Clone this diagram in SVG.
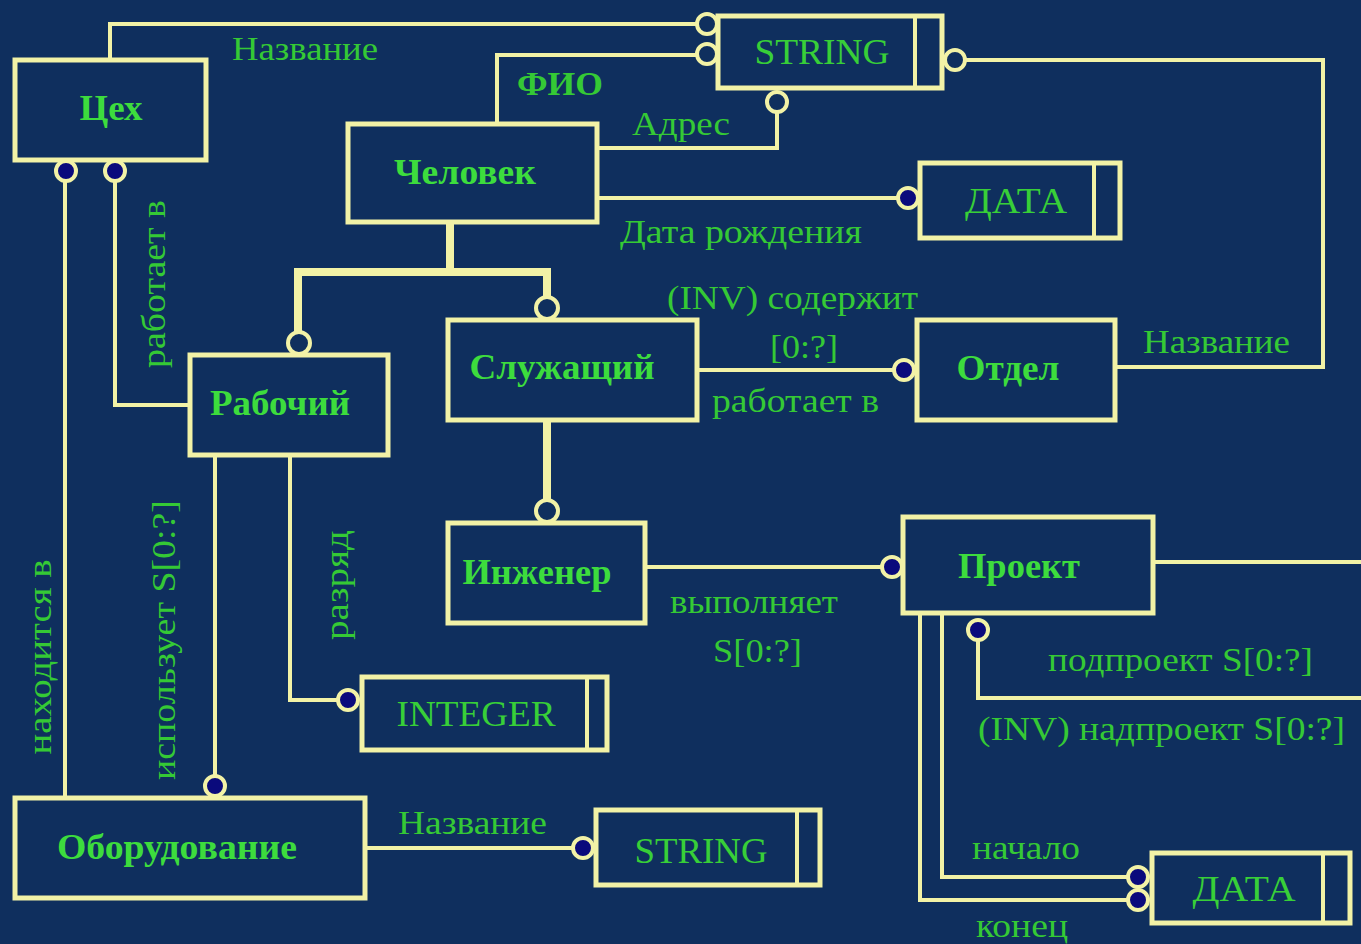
<svg xmlns="http://www.w3.org/2000/svg" width="1361" height="944" viewBox="0 0 1361 944">
  <style>
    .bg { fill: #0f2f5e; }
    .box { fill: #0f2f5e; stroke: #f2f2a6; stroke-width: 5; }
    .div { fill: none; stroke: #f2f2a6; stroke-width: 4; }
    .ln { fill: none; stroke: #f2f2a6; stroke-width: 4; stroke-linejoin: miter; }
    .sub { fill: none; stroke: #f2f2a6; stroke-width: 8; stroke-linejoin: miter; }
    .dot { fill: #0a0a7c; stroke: #f2f2a6; stroke-width: 4; }
    .ring { fill: #0f2f5e; stroke: #f2f2a6; stroke-width: 4; }
    .name { font-family: "Liberation Serif", "DejaVu Serif", serif; font-weight: bold; font-size: 35px; fill: #3ddc3d; text-anchor: middle; }
    .type { font-family: "Liberation Serif", "DejaVu Serif", serif; font-size: 35px; fill: #38cf38; text-anchor: middle; }
    .lbl { font-family: "Liberation Serif", "DejaVu Serif", serif; font-size: 33px; fill: #35c935; }
    .mid { text-anchor: middle; }
  </style>
  <rect class="bg" x="0" y="0" width="1361" height="944"/>

  <!-- connectors -->
  <g id="connectors">
    <!-- Цех.Название -> STRING -->
    <polyline class="ln" points="110,60 110,24 697,24"/>
    <!-- Человек.ФИО -> STRING -->
    <polyline class="ln" points="497,125 497,55 697,55"/>
    <!-- Человек.Адрес -> STRING -->
    <polyline class="ln" points="597,148 777,148 777,112"/>
    <!-- Отдел.Название -> STRING -->
    <polyline class="ln" points="1115,367 1323,367 1323,60 966,60"/>
    <!-- Человек.Дата рождения -> ДАТА -->
    <line class="ln" x1="597" y1="198" x2="898" y2="198"/>
    <!-- subtypes of Человек -->
    <polyline class="sub" points="450,222 450,272"/>
    <polyline class="sub" points="298,333 298,272 547,272 547,298"/>
    <line class="sub" x1="547" y1="420" x2="547" y2="501"/>
    <!-- Служащий работает в Отдел -->
    <line class="ln" x1="697" y1="370" x2="893" y2="370"/>
    <!-- Инженер выполняет Проект -->
    <line class="ln" x1="645" y1="567" x2="881" y2="567"/>
    <!-- Проект подпроект / надпроект -->
    <line class="ln" x1="1153" y1="562" x2="1361" y2="562"/>
    <polyline class="ln" points="978,641 978,698 1361,698"/>
    <!-- Проект начало / конец -> ДАТА -->
    <polyline class="ln" points="942,613 942,877 1127,877"/>
    <polyline class="ln" points="920,613 920,900 1127,900"/>
    <!-- Оборудование находится в Цех -->
    <line class="ln" x1="65" y1="181" x2="65" y2="798"/>
    <!-- Рабочий работает в Цех -->
    <polyline class="ln" points="115,181 115,405 190,405"/>
    <!-- Рабочий использует Оборудование -->
    <line class="ln" x1="215" y1="455" x2="215" y2="775"/>
    <!-- Рабочий.разряд -> INTEGER -->
    <polyline class="ln" points="290,455 290,700 337,700"/>
    <!-- Оборудование.Название -> STRING -->
    <line class="ln" x1="365" y1="848" x2="572" y2="848"/>

    <!-- end markers -->
    <circle class="ring" cx="707" cy="24" r="10"/>
    <circle class="ring" cx="707" cy="54" r="10"/>
    <circle class="ring" cx="777" cy="102" r="10"/>
    <circle class="ring" cx="955" cy="60" r="10"/>
    <circle class="dot" cx="908" cy="198" r="10"/>
    <circle class="ring" cx="299" cy="343" r="11"/>
    <circle class="ring" cx="547" cy="308" r="11"/>
    <circle class="ring" cx="547" cy="511" r="11"/>
    <circle class="dot" cx="904" cy="370" r="10"/>
    <circle class="dot" cx="892" cy="567" r="10"/>
    <circle class="dot" cx="978" cy="630" r="10"/>
    <circle class="dot" cx="1138" cy="877" r="10"/>
    <circle class="dot" cx="1138" cy="900" r="10"/>
    <circle class="dot" cx="66" cy="171" r="10"/>
    <circle class="dot" cx="115" cy="171" r="10"/>
    <circle class="dot" cx="215" cy="786" r="10"/>
    <circle class="dot" cx="348" cy="700" r="10"/>
    <circle class="dot" cx="583" cy="848" r="10"/>

    <!-- relation labels -->
    <text class="lbl" x="232" y="60" textLength="146" lengthAdjust="spacingAndGlyphs">Название</text>
    <text class="lbl" x="517" y="95" textLength="86" lengthAdjust="spacingAndGlyphs" font-weight="bold">ФИО</text>
    <text class="lbl" x="632" y="135" textLength="98" lengthAdjust="spacingAndGlyphs">Адрес</text>
    <text class="lbl" x="620" y="243" textLength="242" lengthAdjust="spacingAndGlyphs">Дата рождения</text>
    <text class="lbl" x="667" y="309" textLength="251" lengthAdjust="spacingAndGlyphs">(INV) содержит</text>
    <text class="lbl" x="770" y="358" textLength="68" lengthAdjust="spacingAndGlyphs">[0:?]</text>
    <text class="lbl" x="712" y="412" textLength="167" lengthAdjust="spacingAndGlyphs">работает в</text>
    <text class="lbl" x="1143" y="353" textLength="147" lengthAdjust="spacingAndGlyphs">Название</text>
    <text class="lbl" x="670" y="613" textLength="168" lengthAdjust="spacingAndGlyphs">выполняет</text>
    <text class="lbl" x="713" y="662" textLength="89" lengthAdjust="spacingAndGlyphs">S[0:?]</text>
    <text class="lbl" x="1048" y="671" textLength="265" lengthAdjust="spacingAndGlyphs">подпроект S[0:?]</text>
    <text class="lbl" x="978" y="740" textLength="367" lengthAdjust="spacingAndGlyphs">(INV) надпроект S[0:?]</text>
    <text class="lbl" x="972" y="859" textLength="108" lengthAdjust="spacingAndGlyphs">начало</text>
    <text class="lbl" x="976" y="937" textLength="92" lengthAdjust="spacingAndGlyphs">конец</text>
    <text class="lbl" x="398" y="834" textLength="149" lengthAdjust="spacingAndGlyphs">Название</text>
    <text class="lbl mid" transform="translate(165,284) rotate(-90)" textLength="168" lengthAdjust="spacingAndGlyphs">работает в</text>
    <text class="lbl mid" transform="translate(51,657) rotate(-90)" textLength="195" lengthAdjust="spacingAndGlyphs">находится в</text>
    <text class="lbl mid" transform="translate(175,640) rotate(-90)" textLength="280" lengthAdjust="spacingAndGlyphs">использует S[0:?]</text>
    <text class="lbl mid" transform="translate(348,585) rotate(-90)" textLength="110" lengthAdjust="spacingAndGlyphs">разряд</text>
  </g>

  <!-- entity nodes -->
  <g id="tsekh">
    <rect class="box" x="15" y="60" width="191" height="100"/>
    <text class="name" x="111" y="120" textLength="63" lengthAdjust="spacingAndGlyphs">Цех</text>
  </g>
  <g id="chelovek">
    <rect class="box" x="348" y="124" width="249" height="98"/>
    <text class="name" x="465" y="184" textLength="142" lengthAdjust="spacingAndGlyphs">Человек</text>
  </g>
  <g id="rabochiy">
    <rect class="box" x="190" y="355" width="198" height="100"/>
    <text class="name" x="280" y="415" textLength="140" lengthAdjust="spacingAndGlyphs">Рабочий</text>
  </g>
  <g id="sluzhashchiy">
    <rect class="box" x="448" y="320" width="249" height="100"/>
    <text class="name" x="562" y="379" textLength="185" lengthAdjust="spacingAndGlyphs">Служащий</text>
  </g>
  <g id="inzhener">
    <rect class="box" x="448" y="523" width="197" height="100"/>
    <text class="name" x="537" y="584" textLength="149" lengthAdjust="spacingAndGlyphs">Инженер</text>
  </g>
  <g id="otdel">
    <rect class="box" x="917" y="320" width="198" height="100"/>
    <text class="name" x="1008" y="380" textLength="103" lengthAdjust="spacingAndGlyphs">Отдел</text>
  </g>
  <g id="proekt">
    <rect class="box" x="903" y="517" width="250" height="96"/>
    <text class="name" x="1019" y="578" textLength="122" lengthAdjust="spacingAndGlyphs">Проект</text>
  </g>
  <g id="oborudovanie">
    <rect class="box" x="15" y="798" width="350" height="100"/>
    <text class="name" x="177" y="859" textLength="240" lengthAdjust="spacingAndGlyphs">Оборудование</text>
  </g>

  <!-- simple type nodes -->
  <g id="string-top">
    <rect class="box" x="718" y="16" width="224" height="72"/>
    <line class="div" x1="915" y1="16" x2="915" y2="88"/>
    <text class="type" x="822" y="64" textLength="135" lengthAdjust="spacingAndGlyphs">STRING</text>
  </g>
  <g id="data-top">
    <rect class="box" x="920" y="163" width="200" height="75"/>
    <line class="div" x1="1094" y1="163" x2="1094" y2="238"/>
    <text class="type" x="1016" y="213" textLength="102" lengthAdjust="spacingAndGlyphs">ДАТА</text>
  </g>
  <g id="integer">
    <rect class="box" x="362" y="677" width="245" height="73"/>
    <line class="div" x1="587" y1="677" x2="587" y2="750"/>
    <text class="type" x="476" y="726" textLength="159" lengthAdjust="spacingAndGlyphs">INTEGER</text>
  </g>
  <g id="string-bottom">
    <rect class="box" x="596" y="810" width="224" height="75"/>
    <line class="div" x1="797" y1="810" x2="797" y2="885"/>
    <text class="type" x="701" y="863" textLength="133" lengthAdjust="spacingAndGlyphs">STRING</text>
  </g>
  <g id="data-bottom">
    <rect class="box" x="1152" y="853" width="198" height="70"/>
    <line class="div" x1="1323" y1="853" x2="1323" y2="923"/>
    <text class="type" x="1244" y="901" textLength="103" lengthAdjust="spacingAndGlyphs">ДАТА</text>
  </g>
</svg>
